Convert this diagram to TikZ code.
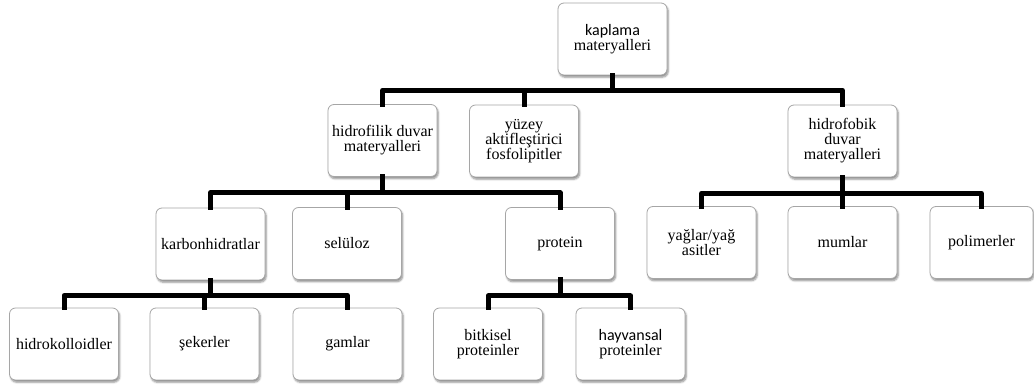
\documentclass[tikz,border=0pt]{standalone}
\usepackage{fontspec}
\setmainfont{Liberation Serif}
\newfontfamily\calfont{Carlito}
\usetikzlibrary{shadows.blur}
\begin{document}
\begin{tikzpicture}[x=1pt,y=-1pt,
  box/.style={draw=gray!70, line width=0.8pt, fill=white, rounded corners=6pt,
    minimum width=109pt, minimum height=72pt, align=center, inner sep=2pt,
    font=\fontsize{16}{15}\selectfont,
    blur shadow={shadow xshift=1.2pt, shadow yshift=-2.2pt, shadow blur steps=6, shadow opacity=45}},
  conn/.style={line width=5pt, line join=round, line cap=rect}]
\useasboundingbox (0,0) rectangle (1034,387);
% level 0
\node[box] (kap) at (612.5,39) {{\calfont kaplama}\\materyalleri};
% level 1
\node[box] (hfil) at (382.5,140.5) {hidrofilik duvar\\materyalleri};
\node[box] (yuz) at (524,141) {yüzey\\aktifleştirici\\fosfolipitler};
\node[box] (hfob) at (842.5,141) {hidrofobik\\duvar\\materyalleri};
% level 2
\node[box] (karb) at (210.5,244) {karbonhidratlar};
\node[box] (sel) at (347,243.5) {selüloz};
\node[box] (prot) at (560,243.5) {protein};
\node[box] (yag) at (701.5,242.5) {yağlar/yağ\\asitler};
\node[box] (mum) at (842.5,242.5) {mumlar};
\node[box, minimum width=103pt] (pol) at (981.5,242.5) {polimerler};
% level 3
\node[box] (hk) at (64,344) {hidrokolloidler};
\node[box] (sek) at (204.5,344) {şekerler};
\node[box] (gam) at (347.5,344) {gamlar};
\node[box] (bit) at (488,344) {bitkisel\\proteinler};
\node[box] (hay) at (630.5,344) {{\calfont hayvansal}\\proteinler};
% connectors
\foreach \c in {hfil,yuz,hfob} \draw[conn] (kap.south) -- ++(0,15) -| (\c.north);
\foreach \c in {karb,sel,prot} \draw[conn] (hfil.south) -- ++(0,16) -| (\c.north);
\foreach \c in {yag,mum,pol} \draw[conn] (hfob.south) -- ++(0,16) -| (\c.north);
\foreach \c in {hk,sek,gam} \draw[conn] (karb.south) -- ++(0,15) -| (\c.north);
\foreach \c in {bit,hay} \draw[conn] (prot.south) -- ++(0,16) -| (\c.north);
\end{tikzpicture}
\end{document}
